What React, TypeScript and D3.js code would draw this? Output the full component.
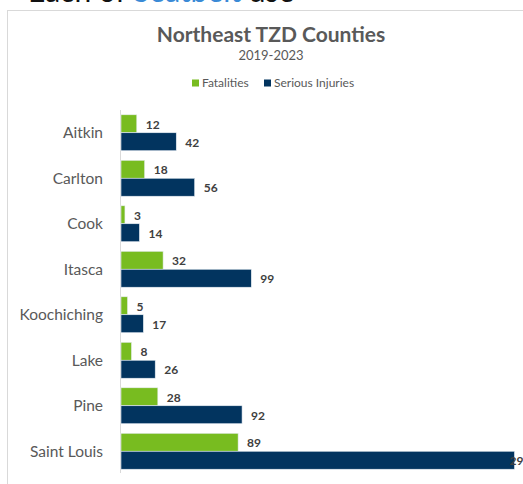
import { useRef, useEffect } from "react";
import * as d3 from "d3";

const counties = ["Aitkin", "Carlton", "Cook", "Itasca", "Koochiching", "Lake", "Pine", "Saint Louis"];
const fatalities = [12, 18, 3, 32, 5, 8, 28, 89];
const seriousInjuries = [42, 56, 14, 99, 17, 26, 92, 299];
const seriesNames = ["Fatalities", "Serious Injuries"];

const COLORS: Record<string, string> = {
  Fatalities: "#78bc20",
  "Serious Injuries": "#02345f",
};

const W = 523;
const H = 484;

export default function App() {
  const svgRef = useRef<SVGSVGElement>(null);

  useEffect(() => {
    if (!svgRef.current) return;
    const svg = d3.select(svgRef.current);
    svg.selectAll("*").remove();

    const font = "Lato, 'Open Sans', sans-serif";

    // header text from the page above the chart (mostly cut off)
    const head = svg
      .append("text")
      .attr("x", 28)
      .attr("y", 2)
      .attr("font-family", font)
      .attr("font-size", "30px")
      .attr("fill", "#111");
    head.append("tspan").text("Each of ");
    head.append("tspan").attr("fill", "#3a8ad6").text("Seatbelt");
    head.append("tspan").text(" use");

    // chart frame
    svg
      .append("rect")
      .attr("x", 7.5)
      .attr("y", 10.5)
      .attr("width", W + 20)
      .attr("height", H + 20)
      .attr("fill", "#fff")
      .attr("stroke", "#d9d9d9");

    const cx = 271;

    svg
      .append("text")
      .attr("x", cx)
      .attr("y", 42)
      .attr("text-anchor", "middle")
      .attr("font-family", font)
      .attr("font-size", "21px")
      .attr("font-weight", "bold")
      .attr("fill", "#595959")
      .text("Northeast TZD Counties");

    svg
      .append("text")
      .attr("x", cx)
      .attr("y", 60)
      .attr("text-anchor", "middle")
      .attr("font-family", font)
      .attr("font-size", "13px")
      .attr("fill", "#595959")
      .text("2019-2023");

    // legend
    const legendX = [192, 264];
    seriesNames.forEach((name, i) => {
      const g = svg.append("g").attr("transform", `translate(${legendX[i]},83)`);
      g.append("rect").attr("x", 0).attr("y", -3.5).attr("width", 7).attr("height", 7).attr("fill", COLORS[name]);
      g.append("text")
        .attr("x", 10)
        .attr("y", 0)
        .attr("dy", "0.35em")
        .attr("font-family", font)
        .attr("font-size", "12px")
        .attr("fill", "#595959")
        .text(name);
    });

    const x0 = 121;
    const x = d3.scaleLinear().domain([0, 100]).range([x0, x0 + 131.6]);
    const y = d3.scaleBand<string>().domain(counties).range([110, 474]).paddingInner(0.21).paddingOuter(0.105);
    const ySub = d3.scaleBand<string>().domain(seriesNames).range([0, y.bandwidth()]);

    // axis line
    svg
      .append("line")
      .attr("x1", 120.5)
      .attr("x2", 120.5)
      .attr("y1", 110)
      .attr("y2", 473)
      .attr("stroke", "#d9d9d9");

    // category labels
    svg
      .append("g")
      .selectAll("text")
      .data(counties)
      .join("text")
      .attr("x", 103)
      .attr("y", (d) => y(d)! + y.bandwidth() / 2)
      .attr("dy", "0.35em")
      .attr("text-anchor", "end")
      .attr("font-family", font)
      .attr("font-size", "15.5px")
      .attr("fill", "#595959")
      .text((d) => d);

    const values = [fatalities, seriousInjuries];
    seriesNames.forEach((name, si) => {
      const data = counties.map((c, i) => ({ c, v: values[si][i] }));
      const g = svg.append("g");
      g.selectAll("rect")
        .data(data)
        .join("rect")
        .attr("x", x0)
        .attr("y", (d) => y(d.c)! + ySub(name)!)
        .attr("width", (d) => x(d.v) - x0)
        .attr("height", ySub.bandwidth())
        .attr("fill", COLORS[name])
        .attr("stroke", "#e8eef4")
        .attr("stroke-width", 0.6);

      // labels sit just past the bar end; the one that runs into the edge is pulled back
      g.selectAll("text")
        .data(data)
        .join("text")
        .attr("x", (d) => (x(d.v) > W - 20 ? x(d.v) - 5 : x(d.v) + 9))
        .attr("y", (d) => y(d.c)! + ySub(name)! + ySub.bandwidth() / 2 + 1)
        .attr("dy", "0.35em")
        .attr("font-family", font)
        .attr("font-size", "12px")
        .attr("font-weight", "bold")
        .attr("fill", "#404040")
        .text((d) => d.v);
    });
  }, []);

  return (
    <div style={{ position: "absolute", left: 0, top: 0, width: W, height: H, overflow: "hidden", background: "#fff" }}>
      <svg ref={svgRef} width={W} height={H} style={{ display: "block" }} />
    </div>
  );
}
